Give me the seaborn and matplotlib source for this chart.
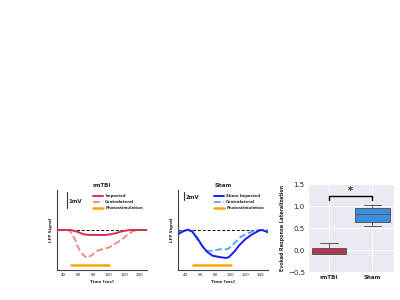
import numpy as np
import pandas as pd
import matplotlib
matplotlib.use("Agg")
import matplotlib.pyplot as plt
import seaborn as sns

# ---------------- data ----------------
# rmTBI LFP traces (mV)
t_rm_imp = [32, 45, 50, 58, 67, 75, 84, 95, 102, 110, 115, 122, 128, 140, 150]
v_rm_imp = [0, 0, 0, -0.10, -0.27, -0.31, -0.31, -0.31, -0.27, -0.19, -0.11, -0.04, 0, 0, 0]
t_rm_con = [32, 45, 49, 56, 58, 64, 71, 78, 84, 92, 100, 110, 118, 124, 132, 140, 150]
v_rm_con = [0, 0, -0.06, -0.62, -0.94, -1.44, -1.75, -1.56, -1.31, -1.19, -1.10,
            -0.81, -0.56, -0.31, -0.06, 0, 0]

# Sham LFP traces (mV)
t_sh_imp = [30, 36, 43, 49, 56, 63, 69, 76, 85, 94, 98, 105, 112, 120, 129, 138, 142, 150]
v_sh_imp = [-1.08, -0.42, 0.10, -0.42, -2.08, -4.17, -5.50, -6.42, -6.75, -7.00, -6.75,
            -5.42, -3.75, -2.25, -1.08, -0.17, 0, -0.58]
t_sh_con = [30, 36, 43, 49, 56, 63, 69, 76, 85, 94, 98, 105, 114, 123, 134, 142, 150]
v_sh_con = [-0.50, -0.25, 0, -0.25, -2.50, -4.17, -5.25, -5.17, -4.83, -4.83, -4.58,
            -3.33, -1.67, -0.83, 0, 0, 0]

# photostimulation window (ms)
stim_window = [50, 100]
stim_level_rm = -2.2
stim_level_sh = -8.75

# lateralization box data
groups = ["rmTBI"] * 5 + ["Sham"] * 5
lateral = [-0.10, -0.10, -0.04, 0.04, 0.15,
           0.54, 0.64, 0.81, 0.95, 1.02]

xticks = [40, 60, 80, 100, 120, 140]

# ---------------- figure ----------------
sns.set_style("white")
plt.rcParams["font.family"] = ["DejaVu Sans"]
fig = plt.figure(figsize=(4, 3), dpi=100)
fig.patch.set_facecolor("white")

def lfp_panel(rect, title, t1, v1, lab1, c1, t2, v2, lab2, c2, stim_y, ylim, xlim,
              bar_x, bar_y0, bar_len, bar_text):
    ax = fig.add_axes(rect)
    ax.axhline(0, ls="--", color="black", lw=0.7, dashes=(3, 2), zorder=1)
    sns.lineplot(x=t1, y=v1, ax=ax, color=c1, lw=1.4, label=lab1, zorder=3)
    sns.lineplot(x=t2, y=v2, ax=ax, color=c2, lw=1.3, linestyle="--",
                 dashes=(2, 2), label=lab2, zorder=2)
    sns.lineplot(x=stim_window, y=[stim_y, stim_y], ax=ax, color="#FFA500", lw=1.8,
                 label="Photostimulation", zorder=2)
    ax.set_xlim(*xlim)
    ax.set_ylim(*ylim)
    ax.set_xticks(xticks)
    ax.set_xticklabels([str(x) for x in xticks])
    ax.set_yticks([])
    ax.tick_params(axis="x", labelsize=3, length=0, pad=2)
    ax.set_xlabel("Time [ms]", fontsize=3, fontweight="bold", labelpad=2)
    ax.set_ylabel("LFP Signal", fontsize=3, fontweight="bold", labelpad=3)
    ax.set_title(title, fontsize=4, fontweight="bold", pad=2.5)
    for s in ["top", "right"]:
        ax.spines[s].set_visible(False)
    for s in ["left", "bottom"]:
        ax.spines[s].set_color("#444444")
        ax.spines[s].set_linewidth(0.8)
    ax.plot([bar_x, bar_x], [bar_y0, bar_y0 - bar_len], color="#333333", lw=0.8)
    ax.text(bar_x + 2.5, bar_y0 - bar_len * 0.65, bar_text, fontsize=4,
            fontweight="bold", va="center", ha="left")
    leg = ax.legend(loc="upper left", bbox_to_anchor=(0.38, 0.97), frameon=False,
                    fontsize=2.8, handlelength=2.6, handletextpad=0.6,
                    labelspacing=0.55, borderaxespad=0)
    for txt in leg.get_texts():
        txt.set_fontweight("bold")
    return ax

lfp_panel([0.1425, 0.10, 0.225, 0.2667], "rmTBI",
          t_rm_imp, v_rm_imp, "Impacted", "#D5304F",
          t_rm_con, v_rm_con, "Contralateral", "#F4837D",
          stim_level_rm, (-2.5, 2.5), (32, 150), 45, 2.4, 1.0, "1mV")

lfp_panel([0.445, 0.10, 0.225, 0.2667], "Sham",
          t_sh_imp, v_sh_imp, "Sham Impacted", "#1A1FF0",
          t_sh_con, v_sh_con, "Contralateral", "#4FA3F7",
          stim_level_sh, (-10, 10), (30, 150), 38, 9.5, 2.0, "2mV")

# ---------------- box panel ----------------
with sns.axes_style("darkgrid"):
    ax3 = fig.add_axes([0.769, 0.0933, 0.215, 0.293])
df = pd.DataFrame({"group": groups, "value": lateral})
sns.boxplot(data=df, x="group", y="value", hue="group",
            palette={"rmTBI": "#C8304E", "Sham": "#3A8EE0"}, saturation=1,
            width=0.8, linewidth=0.7, linecolor="#5A5A5A", legend=False, ax=ax3)
ax3.set_ylim(-0.5, 1.5)
ax3.set_yticks([-0.5, 0.0, 0.5, 1.0, 1.5])
ax3.set_yticklabels(["\u22120.5", "0.0", "0.5", "1.0", "1.5"])
ax3.tick_params(axis="y", labelsize=5, length=0, pad=2)
ax3.tick_params(axis="x", labelsize=4, length=0, pad=2)
for lbl in ax3.get_xticklabels():
    lbl.set_fontweight("bold")
ax3.set_xlabel("")
ax3.set_ylabel("Evoked Response Lateralization", fontsize=3.4, fontweight="bold",
               labelpad=2)
ax3.grid(True, color="white", lw=0.6)
ax3.plot([0, 0, 1, 1], [1.13, 1.22, 1.22, 1.13], color="black", lw=1.0)
ax3.text(0.5, 1.23, "*", ha="center", va="bottom", fontsize=7, fontweight="bold")

fig.savefig("out.png", dpi=100, facecolor="white")
